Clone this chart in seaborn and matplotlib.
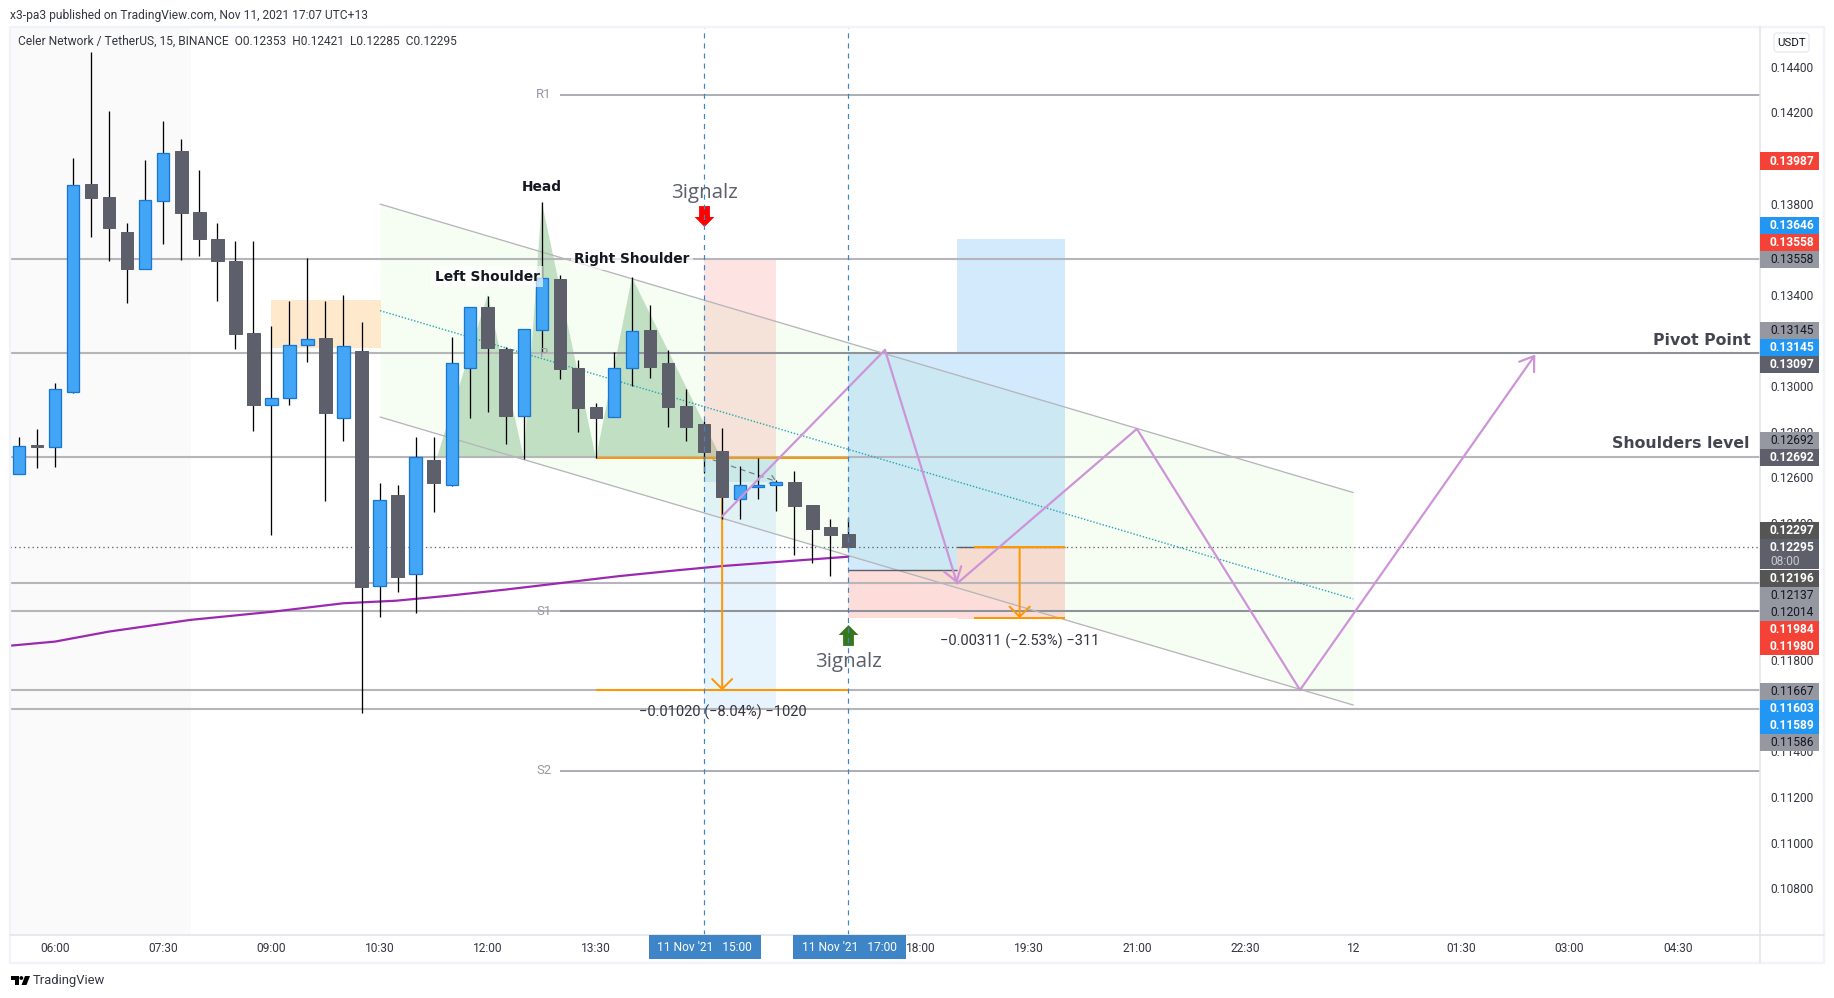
import numpy as np
import pandas as pd
import matplotlib
matplotlib.use("Agg")
import matplotlib.pyplot as plt
from matplotlib.patches import Rectangle, Polygon, Circle, FancyBboxPatch
from matplotlib.path import Path
import seaborn as sns

# ---------- data ----------
first_bar = -2
opens = [.12617,.12742,.12735,.12976,.13886,.13829,.13676,.13515,.13813,.14031,.13763,.13645,.13549,.13233,.12919,.12950,.13182,.13211,.12862,.13154,.12126,.12523,.12179,.12677,.12569,.13081,.13347,.13162,.12871,.13248,.13470,.13080,.12909,.12864,.13079,.13245,.13100,.12913,.12833,.12716,.12507,.12558,.12566,.12580,.12480,.12383,.12353]
highs = [.12778,.12813,.13013,.13998,.14464,.14206,.13714,.13991,.14162,.14082,.13947,.13714,.13636,.13636,.13264,.13373,.13560,.13373,.13400,.13281,.12574,.12567,.12777,.12777,.13214,.13346,.13397,.13170,.13249,.13807,.13487,.13115,.12925,.13150,.13477,.13356,.13157,.12988,.12849,.12815,.12650,.12684,.12589,.12628,.12480,.12418,.12421]
lows = [.12617,.12642,.12647,.12972,.13655,.13550,.13366,.13515,.13623,.13553,.13571,.13373,.13163,.12804,.12348,.12918,.13107,.12497,.12760,.11570,.11990,.12100,.12008,.12450,.12564,.12862,.12889,.12747,.12681,.13151,.13032,.12801,.12684,.12864,.13003,.13037,.12823,.12761,.12621,.12417,.12420,.12506,.12453,.12260,.12227,.12170,.12285]
closes = [.12737,.12735,.12988,.13880,.13826,.13693,.13515,.13815,.14020,.13760,.13645,.13550,.13230,.12918,.12947,.13179,.13205,.12884,.13175,.12122,.12500,.12165,.12688,.12577,.13100,.13346,.13169,.12871,.13249,.13473,.13075,.12906,.12862,.13079,.13240,.13086,.12910,.12823,.12713,.12516,.12566,.12567,.12579,.12475,.12375,.12348,.12295]

ma_bars = [-2.5,0,3,7.5,12.08,16,18.9,21.7,25,31.3,34.7,37,44]
ma_vals = [.11863,.11881,.11925,.11976,.12012,.12049,.12060,.12081,.12109,.12168,.12195,.12212,.12253]

level_vals = [.13558,.13145,.12692,.12137,.12014,.11667,.11586]
pivot_names = ["R1","P","S1","S2"]
pivot_vals = [.14277,.13145,.12015,.11314]
last_price = .12295

chan_bars = [18.03,72.0]
chan_upper = [.13798,.12534]
chan_mid = [.13331,.12068]
chan_lower = [.12865,.11603]

hs_bars = [21.2,24,26,27,30,32,36.9]
hs_vals = [.12692,.13400,.12684,.13807,.12684,.13477,.12692]

zig1_bars = [37,46.03,50.03]
zig1_vals = [.1243,.13159,.12136]
zig2_bars = [50.03,60,69.05,82.1]
zig2_vals = [.12136,.12813,.11669,.13139]

yticks = [.144,.142,.138,.134,.130,.128,.126,.124,.118,.114,.112,.110,.108]
xtick_bars = [0,6,12,18,24,30,48,54,60,66,72,78,84,90]
xtick_labels = ["06:00","07:30","09:00","10:30","12:00","13:30","18:00","19:30","21:00","22:30","12","01:30","03:00","04:30"]

scale_texts = ["0.13987","0.13646","0.13558","0.13558","0.13145","0.13145","0.13097","0.12692","0.12692","0.12297","0.12196","0.12137","0.12014","0.11984","0.11980","0.11667","0.11603","0.11589","0.11586"]
scale_kinds = ["red","blue","red","grey","grey","blue","dark","grey","dark","ink","ink","grey","grey","red","red","grey","blue","blue","grey"]
scale_rows = [161,225.7,242.7,259.3,330.7,347.7,364.3,440.7,457.3,530.3,578.3,595.7,612.7,629.7,646.7,691.7,708.3,725.3,742.3]

# ---------- style ----------
sns.set_theme(style="white")
plt.rcParams["font.family"] = ["Roboto", "DejaVu Sans"]
plt.rcParams["axes.unicode_minus"] = True
PX = 0.72
W, H = 1834, 998
INK = "#131722"; GREY = "#b5b5ba"; UP = "#42a5f5"; UPE = "#1976d2"; DOWN = "#5d606b"
ORANGE = "#ff9800"; LILAC = "#ce93d8"

fig = plt.figure(figsize=(W/100, H/100), dpi=100, facecolor="white")
L, R, T, B = 10, 1760, 27, 935
ax = fig.add_axes([L/W, 1-B/H, (R-L)/W, (B-T)/H])
ax.set_xlim(-2.496, 94.56)
ax.set_ylim(.1469226-B*4.3817e-5, .1469226-T*4.3817e-5)
for s in ax.spines.values():
    s.set_visible(False)
ax.yaxis.tick_right()
ax.set_yticks(yticks, [f"{v:.5f}" for v in yticks])
ax.set_xticks(xtick_bars, xtick_labels)
ax.tick_params(axis="both", length=0, labelsize=12*PX, labelcolor="#333640")
ax.tick_params(axis="y", pad=7.2)
ax.tick_params(axis="x", pad=5.2)
ax.grid(False)

def rect(x0, x1, y0, y1, color, alpha=1.0, z=1.0):
    ax.add_patch(Rectangle((x0, y0), x1-x0, y1-y0, facecolor=color, edgecolor="none", alpha=alpha, zorder=z))

# shaded session, zones
rect(-2.496, 7.52, ax.get_ylim()[0], ax.get_ylim()[1], "#fafafa", z=0.5)
rect(11.98, 18.08, .13167, .13378, "#fee9cc", z=1)
# channel
ax.fill_between(chan_bars, chan_lower, chan_upper, color="#69de37", alpha=0.06, lw=0, zorder=1.1)
# head & shoulders shape
ax.fill(hs_bars, hs_vals, color="#c1dfc2", lw=0, zorder=1.2)
# short position
rect(36, 40, .12684, .13558, "#f44336", .14, 1.3)
rect(36, 40, .11586, .12684, "#2196f3", .10, 1.3)
rect(36, 40, .12582, .12684, "#26a69a", .12, 1.3)
# long positions
rect(44, 50, .12196, .13145, "#2196f3", .2, 1.3)
rect(44, 50, .11984, .12196, "#f44336", .18, 1.3)
rect(50, 56, .12297, .13646, "#2196f3", .2, 1.3)
rect(50, 56, .11980, .12297, "#f44336", .18, 1.3)

# horizontal levels
for v in level_vals:
    ax.axhline(v, color=GREY, lw=2.1*PX, zorder=2)
ax.hlines(pivot_vals, 28, 94.56, color="#787b86", lw=1.6*PX, alpha=.75, zorder=2)
for n, v in zip(pivot_names, pivot_vals):
    ax.text(27.1, v, n, color="#9598a1", fontsize=13*PX, ha="center", va="center", zorder=6)
ax.axhline(last_price, color="#5d606b", lw=1.3*PX, ls=(0, (1, 2.4)), zorder=2)

# channel lines
for arr, col, kw in [(chan_upper, GREY, dict(lw=1.3*PX)), (chan_lower, GREY, dict(lw=1.3*PX)),
                     (chan_mid, "#26a5b5", dict(lw=1.4*PX, ls=(0, (1, 1.3))))]:
    sns.lineplot(x=chan_bars, y=arr, color=col, ax=ax, zorder=2.2, legend=False, errorbar=None, **kw)

# moving average
sns.lineplot(data=pd.DataFrame({"bar": ma_bars, "ma": ma_vals}), x="bar", y="ma", color="#9c27b0", lw=2.2*PX,
             ax=ax, zorder=2.3, errorbar=None, estimator=None)
ax.set_xlabel(""); ax.set_ylabel("")

# position entry edges
ax.hlines(.12196, 44, 50, color="#5d606b", lw=1.4*PX, zorder=2.4)
ax.hlines(.12297, 50, 56, color="#5d606b", lw=1.4*PX, zorder=2.4)

# price-range measures
ax.hlines([.12684, .11667], 30, 44, color=ORANGE, lw=2*PX, zorder=2.5)
ax.hlines([.12295, .11984], 50.97, 56, color=ORANGE, lw=2*PX, zorder=2.5)
arrow_kw = dict(arrowstyle="->,head_length=0.72,head_width=0.72", color=ORANGE, lw=2*PX, shrinkA=0, shrinkB=0, mutation_scale=10)
ax.annotate("", xy=(37, .11667), xytext=(37, .12684), arrowprops=arrow_kw, zorder=2.6, annotation_clip=False)
ax.annotate("", xy=(53.5, .11984), xytext=(53.5, .12295), arrowprops=arrow_kw, zorder=2.6)
ax.text(37.03, .1157, "\u22120.01020 (\u22128.04%) \u22121020", fontsize=14.6*PX, color="#333640", ha="center", va="center", zorder=3)
ax.text(53.5, .1188, "\u22120.00311 (\u22122.53%) \u2212311", fontsize=14.6*PX, color="#333640", ha="center", va="center", zorder=3)

# dashed small trend
ax.annotate("", xy=(40.03, .12582), xytext=(36.5, .12677),
            arrowprops=dict(arrowstyle="->,head_length=0.4,head_width=0.3", color="#787b86", lw=1.2*PX, ls=(0, (4, 4)),
                            shrinkA=0, shrinkB=0, mutation_scale=10), zorder=2.6)

# candles
bars = np.arange(first_bar, first_bar+len(opens))
o, h, l, c = map(np.array, (opens, highs, lows, closes))
up = c >= o
ax.vlines(bars, l, h, color="black", lw=1.3*PX, zorder=4)
ax.bar(bars[up], (c-o)[up], bottom=o[up], width=.68, color=UP, edgecolor=UPE, lw=1.3*PX, zorder=5)
ax.bar(bars[~up], (o-c)[~up], bottom=c[~up], width=.70, color=DOWN, edgecolor=DOWN, lw=1.0*PX, zorder=5)

# vertical cursors
for b in (36, 44):
    ax.axvline(b, color="#3d85c6", lw=1.2*PX, ls=(0, (4.2, 4.2)), zorder=7)

# projected path
sns.lineplot(x=zig1_bars[:-1], y=zig1_vals[:-1], color=LILAC, lw=2.2*PX, ax=ax, zorder=6, errorbar=None, estimator=None, sort=False)
sns.lineplot(x=zig2_bars[:-1], y=zig2_vals[:-1], color=LILAC, lw=2.2*PX, ax=ax, zorder=6, errorbar=None, estimator=None, sort=False)
head_kw = dict(arrowstyle="->,head_length=0.95,head_width=0.65", color=LILAC, lw=2.2*PX, shrinkA=0, shrinkB=0, mutation_scale=10)
ax.annotate("", xy=(zig1_bars[-1], zig1_vals[-1]), xytext=(zig1_bars[-2], zig1_vals[-2]), arrowprops=head_kw, zorder=6)
ax.annotate("", xy=(zig2_bars[-1], zig2_vals[-1]), xytext=(zig2_bars[-2], zig2_vals[-2]), arrowprops=head_kw, zorder=6)
ax.set_xlabel(""); ax.set_ylabel("")

# signal arrows
down_arrow = Path([(-.52,1),(.52,1),(.52,-.05),(.95,-.05),(0,-1),(-.95,-.05),(-.52,-.05),(-.52,1)], closed=True)
up_arrow = Path([(-.52,-1),(.52,-1),(.52,.05),(.95,.05),(0,1),(-.95,.05),(-.52,.05),(-.52,-1)], closed=True)
ax.scatter([36], [.13748], marker=down_arrow, s=225, color="#ff0000", lw=0, zorder=6.5)
ax.scatter([44], [.11908], marker=up_arrow, s=225, color="#38761d", lw=0, zorder=6.5)
ax.text(36, .13847, "3ignalz", fontsize=20.5*PX, color="#5d606b", ha="center", va="center", zorder=8, family=["Open Sans"])
ax.text(44, .11790, "3ignalz", fontsize=20.5*PX, color="#5d606b", ha="center", va="center", zorder=8, family=["Open Sans"])

# pattern annotations
box = dict(facecolor="white", edgecolor="none", alpha=.65, pad=2.5)
for txt, b, p in [("Head", 27, .13871), ("Left Shoulder", 23.96, .13479), ("Right Shoulder", 32, .13557)]:
    ax.text(b, p, txt, fontsize=13.8*PX, weight="bold", color=INK, ha="center", va="center", bbox=box, zorder=9, family=["DejaVu Sans"])
ax.text(94.07, .13202, "Pivot Point", fontsize=15.7*PX, weight="bold", color="#434651", ha="right", va="center", zorder=9, family=["DejaVu Sans"])
ax.text(94.0, .12751, "Shoulders level", fontsize=15.7*PX, weight="bold", color="#434651", ha="right", va="center", zorder=9, family=["DejaVu Sans"])

# ---------- chrome drawn in figure pixels ----------
ov = fig.add_axes([0, 0, 1, 1], zorder=10)
ov.patch.set_visible(False)
ov.set_xlim(0, W); ov.set_ylim(H, 0); ov.axis("off")
ov.plot([10, 1824, 1824, 10, 10], [26.5, 26.5, 963, 963, 26.5], color="#f0f3fa", lw=2.4*PX)
ov.plot([1760, 1760], [27, 963], color="#e0e3eb", lw=1.5*PX)
ov.plot([10, 1824], [935, 935], color="#e0e3eb", lw=1.5*PX)

fills = {"red": "#f44336", "blue": "#2196f3", "grey": "#9598a1", "dark": "#5d606b", "ink": "#555555"}
for t, k, y in zip(scale_texts, scale_kinds, scale_rows):
    ov.add_patch(Rectangle((1760, y-8.6), 59, 17.2, facecolor=fills[k], edgecolor="none", zorder=3))
    ov.text(1770, y, t, fontsize=12*PX, color=INK if k == "grey" else "white", weight="normal" if k == "grey" else "bold",
            ha="left", va="center", zorder=4)
# last price box
ov.add_patch(Rectangle((1760, 539), 59, 30.3, facecolor="#5d606b", edgecolor="none", zorder=3))
ov.text(1770, 547.5, "0.12295", fontsize=12*PX, color="white", weight="bold", ha="left", va="center", zorder=4)
ov.text(1770, 561.5, "08:00", fontsize=12*PX, color="#c8cad0", ha="left", va="center", zorder=4)
# currency button
ov.add_patch(FancyBboxPatch((1776, 35), 31, 15, boxstyle="round,pad=2,rounding_size=3", facecolor="white", edgecolor="#e0e3eb", lw=1*PX, zorder=3))
ov.text(1791.5, 42.5, "USDT", fontsize=11.5*PX, color=INK, ha="center", va="center", zorder=4)
# cursor time boxes
for x0, x1, t in [(648.5, 760.6, "11 Nov '21   15:00"), (792.6, 905.5, "11 Nov '21   17:00")]:
    ov.add_patch(Rectangle((x0, 935), x1-x0, 24, facecolor="#3d85c6", edgecolor="none", zorder=3))
    ov.text((x0+x1)/2, 947.5, t, fontsize=12*PX, color="white", ha="center", va="center", zorder=4)
# header and legend
ov.text(10, 15, "x3-pa3 published on TradingView.com, Nov 11, 2021 17:07 UTC+13", fontsize=12*PX, color="#333640", ha="left", va="center")
ov.text(18, 41.5, "Celer Network / TetherUS, 15, BINANCE  O0.12353  H0.12421  L0.12285  C0.12295", fontsize=12*PX, color="#333640", ha="left", va="center")
# logo
ov.add_patch(Polygon([(10.5,976),(19,976),(19,985),(15,985),(15,980),(10.5,980)], facecolor="black", edgecolor="none"))
ov.add_patch(Circle((21.3,978), 1.9, facecolor="black", edgecolor="none"))
ov.add_patch(Polygon([(25,976),(30,976),(26.5,985),(21.5,985)], facecolor="black", edgecolor="none"))
ov.text(33, 980.5, "TradingView", fontsize=13*PX, color="#333640", ha="left", va="center")

fig.savefig("out.png", dpi=100, facecolor="white")
